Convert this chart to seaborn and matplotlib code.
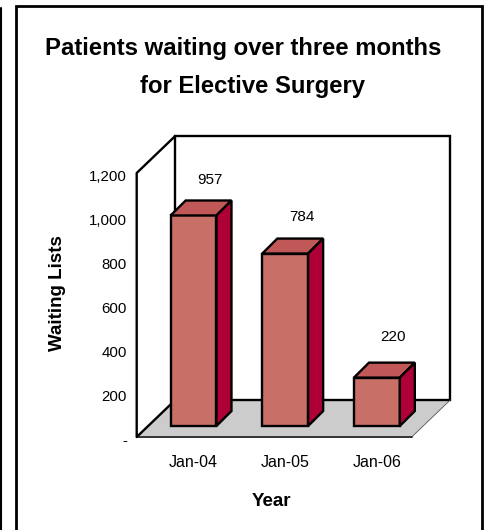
import matplotlib.pyplot as plt
import pandas as pd
import seaborn as sns
from matplotlib.lines import Line2D
from matplotlib.patches import Polygon, Rectangle
from matplotlib.transforms import ScaledTranslation

# values
years = ["Jan-04", "Jan-05", "Jan-06"]
waiting = [957, 784, 220]
y_ticks = [0, 200, 400, 600, 800, 1000, 1200]
y_tick_labels = ["-", "200", "400", "600", "800", "1,000", "1,200"]

FRONT = "#C87068"
TOP = "#C05858"
SIDE = "#AE0036"
FLOOR = "#CCCCCC"
W, H = 488, 530
LW = 1.7


def px_axes(fig, left, top, right, bottom):
    return fig.add_axes([left / W, 1 - bottom / H, (right - left) / W, (bottom - top) / H])


def draw_walls(wall, d=0.14):
    tr = wall.transAxes
    wall.add_patch(Polygon([(0, 0), (1, 0), (1 + d, d), (d, d)], closed=True, transform=tr,
                           facecolor=FLOOR, edgecolor="none", clip_on=False))
    wall.add_line(Line2D([1, 1 + d], [0, d], transform=tr, color="#555555", lw=0.6, clip_on=False))
    wall.add_line(Line2D([0, 1], [0, 0], transform=tr, color="#333333", lw=1.4, clip_on=False))
    wall.add_patch(Rectangle((d, d), 1, 1, transform=tr, fill=False, edgecolor="black", lw=LW, clip_on=False))
    wall.add_line(Line2D([d, 0, 0, d], [d, 0, 1, 1 + d], transform=tr, color="black", lw=LW, clip_on=False))


def draw_bar_depth(ax, dx=0.164, dy=68):
    for bar in ax.patches[:len(waiting)]:
        x0, x1, h = bar.get_x(), bar.get_x() + bar.get_width(), bar.get_height()
        ax.add_patch(Polygon([(x0, h), (x1, h), (x1 + dx, h + dy), (x0 + dx, h + dy)], closed=True,
                             facecolor=TOP, edgecolor="black", lw=LW, clip_on=False, joinstyle="miter"))
        ax.add_patch(Polygon([(x1, 0), (x1 + dx, dy), (x1 + dx, h + dy), (x1, h)], closed=True,
                             facecolor=SIDE, edgecolor="black", lw=LW, clip_on=False, joinstyle="miter"))


def main():
    sns.set_theme(style="white")
    plt.rcParams["font.family"] = ["Liberation Sans", "DejaVu Sans"]

    fig = plt.figure(figsize=(W / 100, H / 100), dpi=100, facecolor="white")

    # front plane of the box, carries the value axis
    wall = px_axes(fig, 136.7, 173, 411.7, 437)
    wall.set_xlim(0, 1)
    wall.set_ylim(0, 1200)
    wall.set_xticks([])
    wall.set_yticks(y_ticks)
    wall.set_yticklabels(y_tick_labels, fontsize=10.8)
    wall.tick_params(axis="y", length=0, pad=7, colors="black")
    nudge = ScaledTranslation(0, -2 / 72, fig.dpi_scale_trans)
    for label in wall.get_yticklabels():
        label.set_transform(label.get_transform() + nudge)
    wall.patch.set_visible(False)
    sns.despine(ax=wall, left=True, bottom=True)
    draw_walls(wall)

    # plane the bars stand on, 11 px into the box
    ax = px_axes(fig, 147.7, 162, 422.7, 426)
    ax.patch.set_visible(False)
    df = pd.DataFrame({"year": years, "waiting": waiting})
    sns.barplot(data=df, x="year", y="waiting", width=0.5, color=FRONT, saturation=1,
                edgecolor="black", linewidth=LW, ax=ax)
    ax.set_xlim(-0.5, 2.5)
    ax.set_ylim(0, 1200)
    ax.set_yticks([])
    ax.set_xlabel("")
    ax.set_ylabel("")
    ax.tick_params(axis="x", length=0, pad=21, labelsize=11.5, colors="black")
    sns.despine(ax=ax, left=True, bottom=True)
    for bar in ax.patches:
        bar.set_clip_on(False)
    draw_bar_depth(ax)

    label_lift = [93, 98, 115]
    for i, val in enumerate(waiting):
        ax.text(i + 0.18, val + 68 + label_lift[i], str(val), ha="center", va="center",
                fontsize=11, color="black")

    # page frame and titles in pixel coordinates
    page = fig.add_axes([0, 0, 1, 1], zorder=-1)
    page.set_xlim(0, W)
    page.set_ylim(H, 0)
    page.axis("off")
    page.plot([16, 16, 482, 482], [H + 5, 6, 6, H + 5], color="black", lw=2, solid_joinstyle="miter")
    page.plot([0.5, 0.5], [8, H + 5], color="black", lw=1.5)
    page.text(243, 48, "Patients waiting over three months", ha="center", va="center",
              fontsize=17.2, fontweight="bold", color="black")
    page.text(253, 86, "for Elective Surgery", ha="center", va="center",
              fontsize=17.2, fontweight="bold", color="black")
    page.text(57, 293, "Waiting Lists", rotation=90, ha="center", va="center",
              fontsize=13.5, fontweight="bold", color="black")
    page.text(271, 502, "Year", ha="center", va="center", fontsize=13.5, fontweight="bold", color="black")

    fig.savefig("out.png", dpi=100)


if __name__ == "__main__":
    main()
